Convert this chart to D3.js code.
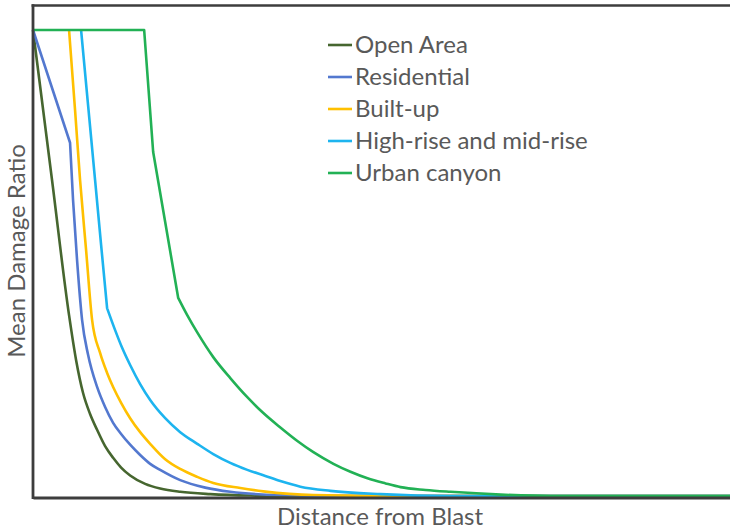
<!DOCTYPE html>
<html>
<head>
<meta charset="utf-8">
<script src="https://cdn.jsdelivr.net/npm/d3@7"></script>
<style>
  html, body { margin: 0; padding: 0; background: #fff; }
  svg { display: block; }
  text { font-family: Lato, "Liberation Sans", sans-serif; fill: #595959; }
</style>
</head>
<body>
<svg id="chart" width="730" height="532"></svg>
<script>
// ---- data (distance units, mean damage ratio) ----
const seriesNames = ["Open Area", "Residential", "Built-up", "High-rise and mid-rise", "Urban canyon"];
const seriesColors = ["#46662f", "#5378cf", "#ffc000", "#1db4ef", "#22b155"];

const openArea = [
  [0, 1.0], [1.9, 0.678], [3.6, 0.388], [4.3, 0.292], [5.0, 0.221], [5.7, 0.176],
  [6.4, 0.142], [7.2, 0.107], [8.0, 0.082], [8.8, 0.061], [9.7, 0.044], [11.2, 0.026],
  [12.7, 0.016], [14.7, 0.009], [17.7, 0.004], [21.7, 0.001], [26.7, 0], [69.7, 0]
];
const residential = [
  [0, 1.0], [3.7, 0.758], [4.0, 0.635], [4.4, 0.506], [4.9, 0.378], [5.5, 0.303],
  [6.4, 0.234], [7.2, 0.191], [8.0, 0.157], [8.8, 0.133], [9.7, 0.110], [10.7, 0.088],
  [11.7, 0.069], [12.7, 0.056], [14.7, 0.034], [17.2, 0.018], [19.7, 0.009], [24.7, 0.002],
  [31.7, 0], [69.7, 0]
];
const builtUp = [
  [3.6, 1.0], [4.2, 0.828], [4.7, 0.678], [5.3, 0.528], [5.9, 0.378], [6.7, 0.307],
  [7.4, 0.264], [8.0, 0.234], [8.8, 0.200], [9.7, 0.167], [10.7, 0.137], [11.7, 0.112],
  [13.2, 0.079], [14.7, 0.058], [16.4, 0.041], [18.0, 0.028], [20.7, 0.017], [23.0, 0.010],
  [28.0, 0.002], [36.7, 0], [69.7, 0]
];
const highRise = [
  [4.8, 1.0], [5.5, 0.839], [6.2, 0.678], [6.8, 0.539], [7.4, 0.403], [8.2, 0.356],
  [8.9, 0.318], [9.7, 0.281], [10.7, 0.240], [11.7, 0.206], [13.2, 0.167], [14.7, 0.137],
  [16.4, 0.112], [18.0, 0.090], [19.7, 0.071], [21.4, 0.056], [23.2, 0.043], [24.7, 0.032],
  [26.7, 0.020], [29.7, 0.011], [34.7, 0.004], [41.7, 0], [69.7, 0]
];
const urbanCanyon = [
  [0, 1.0], [11.1, 1.0], [12.0, 0.738], [14.5, 0.425], [15.4, 0.388], [16.4, 0.351],
  [18.0, 0.298], [19.7, 0.253], [21.4, 0.212], [23.0, 0.178], [24.7, 0.147], [26.4, 0.118],
  [28.0, 0.094], [30.0, 0.069], [31.7, 0.052], [33.4, 0.038], [35.2, 0.027], [36.7, 0.019],
  [39.2, 0.013], [41.7, 0.009], [46.7, 0.003], [51.7, 0], [69.7, 0]
];
const seriesValues = [openArea, residential, builtUp, highRise, urbanCanyon];
// index of the point where the drawn line switches from straight segments to a smoothed curve
const smoothFrom = [0, 2, 0, 4, 3];

const xTitle = "Distance from Blast";
const yTitle = "Mean Damage Ratio";
const xDomain = [0, 69.7];
const yDomain = [0, 1.0536];

// ---- layout ----
const svg = d3.select("#chart");
const plot = { left: 33, right: 731, top: 5, bottom: 496 };

const x = d3.scaleLinear().domain(xDomain).range([plot.left, plot.right]);
const y = d3.scaleLinear().domain(yDomain).range([plot.bottom, plot.top]);

const straight = d3.line().x(d => x(d[0])).y(d => y(d[1])).curve(d3.curveLinear);
const smooth = d3.line().x(d => x(d[0])).y(d => y(d[1])).curve(d3.curveMonotoneX);

function pathFor(pts, k) {
  if (k <= 0) return smooth(pts);
  const head = straight(pts.slice(0, k + 1));
  const tail = smooth(pts.slice(k)).replace(/^M[^CLHVZ]*/, "");
  return head + tail;
}

// series
svg.append("g")
  .selectAll("path")
  .data(seriesValues)
  .join("path")
  .attr("d", (d, i) => pathFor(d, smoothFrom[i]))
  .attr("fill", "none")
  .attr("stroke", (d, i) => seriesColors[i])
  .attr("stroke-width", 2.6)
  .attr("stroke-linejoin", "round");

// frame: left & bottom axes without ticks, top border
const frameColor = "#3d3d3d";
const gy = svg.append("g")
  .attr("transform", `translate(${plot.left},0)`)
  .call(d3.axisLeft(y).tickValues([]).tickSizeOuter(0));
const gx = svg.append("g")
  .attr("transform", `translate(0,${plot.bottom + 1.5})`)
  .call(d3.axisBottom(x).tickValues([]).tickSizeOuter(0));
[gx, gy].forEach(g => g.select(".domain").attr("stroke", frameColor).attr("stroke-width", 2.8));
svg.append("line")
  .attr("x1", plot.left - 1.4).attr("x2", plot.right)
  .attr("y1", y(yDomain[1]) + 0.5).attr("y2", y(yDomain[1]) + 0.5)
  .attr("stroke", frameColor).attr("stroke-width", 2.6);
gy.select(".domain").attr("d", `M0,${plot.top - 0.8}V${plot.bottom + 2.9}`);

// axis titles
svg.append("text")
  .attr("x", 380).attr("y", 525)
  .attr("text-anchor", "middle")
  .attr("font-size", 24)
  .text(xTitle);
svg.append("text")
  .attr("transform", "translate(25,251) rotate(-90)")
  .attr("text-anchor", "middle")
  .attr("font-size", 24)
  .text(yTitle);

// legend
const legend = svg.append("g").attr("transform", "translate(328,53)");
const rows = legend.selectAll("g")
  .data(seriesNames)
  .join("g")
  .attr("transform", (d, i) => `translate(0,${i * 32})`);
rows.append("line")
  .attr("x1", 0).attr("x2", 24)
  .attr("y1", -8).attr("y2", -8)
  .attr("stroke", (d, i) => seriesColors[i])
  .attr("stroke-width", 2.6);
rows.append("text")
  .attr("x", 27).attr("y", 0)
  .attr("font-size", 24)
  .text(d => d);
</script>
</body>
</html>
